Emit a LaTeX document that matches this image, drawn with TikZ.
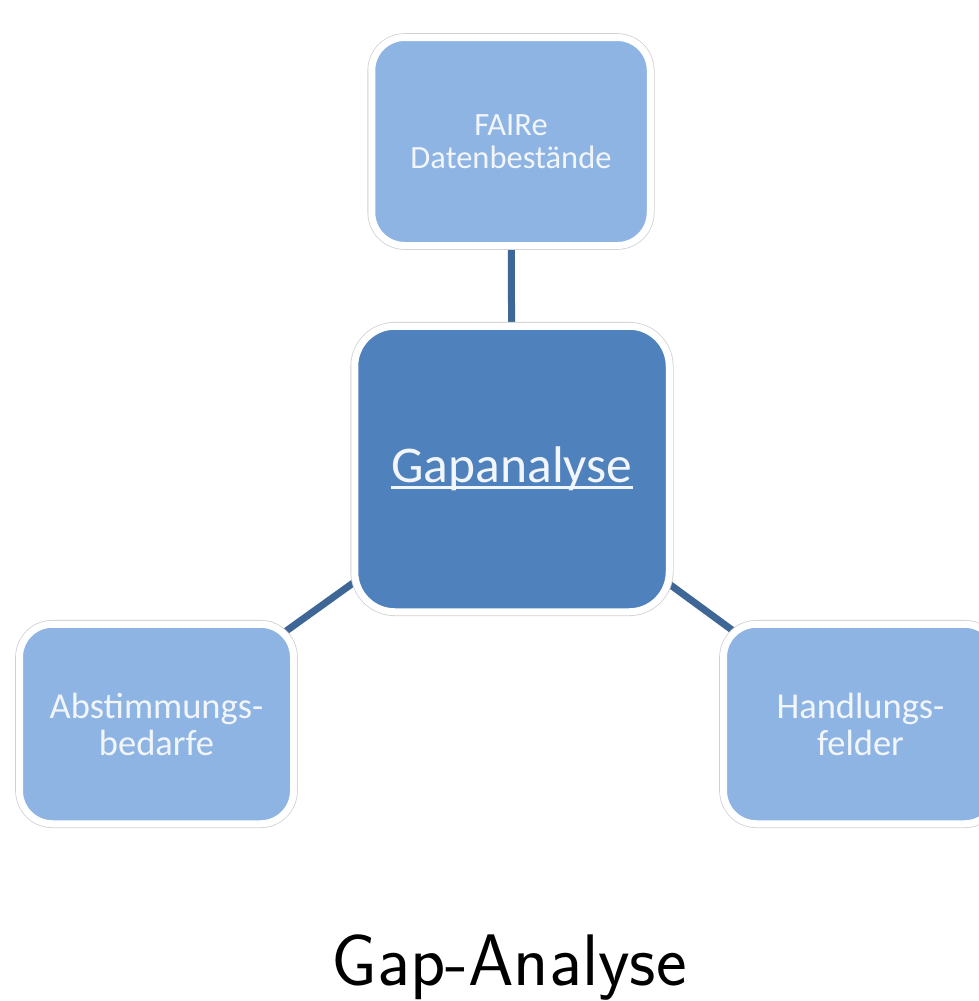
\documentclass[tikz,border=0pt]{standalone}
\usepackage{fontspec}
\newfontfamily\boxfont{Carlito}
\usetikzlibrary{backgrounds}
\definecolor{lightbox}{HTML}{8EB4E3}
\definecolor{mainbox}{HTML}{4F81BD}
\definecolor{linkcol}{HTML}{3E6797}
\definecolor{txtcol}{HTML}{F2F6FB}
\newcommand\myul[1]{\setbox0\hbox{#1}\rlap{\rule[-6pt]{\wd0}{2.5pt}}\box0}
\tikzset{
  boxbase/.style={rectangle, fill=#1, draw=white, line width=7pt,
    preaction={draw=black!18, line width=8.6pt},
    text=txtcol, align=center, inner sep=0pt, font=\boxfont},
  smallbox/.style={boxbase=lightbox, rounded corners=33pt},
  bigbox/.style={boxbase=mainbox, rounded corners=40pt},
  link/.style={draw=linkcol, line width=7pt}
}
\begin{document}
\begin{tikzpicture}[x=1pt,y=-1pt]
\useasboundingbox (0,0) rectangle (979,1001);
\node[smallbox, minimum width=278.5pt, minimum height=208pt,
  font=\boxfont\fontsize{32.5}{32.5}\selectfont] (top) at (511,141.5) {FAIRe\\Datenbestände};
\node[bigbox, minimum width=314.5pt, minimum height=285.5pt,
  font=\boxfont\fontsize{51.5}{60}\selectfont] (center) at (512,469) {\raisebox{-4pt}{\myul{Gapanalyse}}};
\node[smallbox, minimum width=274pt, minimum height=199.5pt,
  font=\boxfont\fontsize{36.5}{37}\selectfont] (left) at (156.5,724) {Abstimmungs-\\bedarfe};
\node[smallbox, minimum width=274pt, minimum height=199.5pt,
  font=\boxfont\fontsize{36.5}{37}\selectfont] (right) at (860.5,724) {Handlungs-\\felder};
\begin{scope}[on background layer]
\draw[link] (top.center) -- (center.center);
\draw[link] (center.center) -- (left.center);
\draw[link] (center.center) -- (right.center);
\end{scope}
\node[anchor=base, font=\sffamily\fontsize{73}{84}\selectfont] (caption) at (509,985) {Gap-Analyse};
\end{tikzpicture}
\end{document}
